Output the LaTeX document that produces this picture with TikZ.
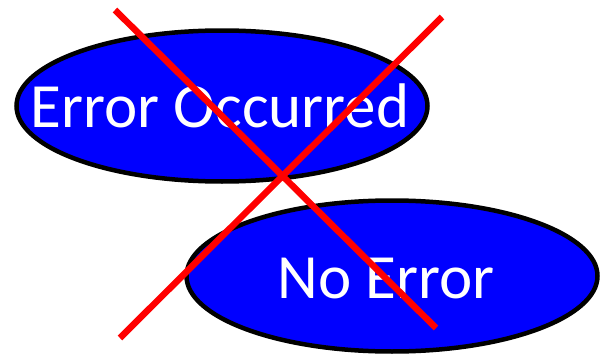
\documentclass[tikz,border=0pt]{standalone}
\usepackage{fontspec}
\setmainfont{Carlito}
\usetikzlibrary{shapes.geometric}
\definecolor{fillblue}{RGB}{0,0,255}
\definecolor{crossred}{RGB}{255,0,0}
\tikzset{
  state/.style={ellipse, draw=black, line width=4.5pt, fill=fillblue, inner sep=0pt,
    minimum width=411pt, minimum height=151pt},
  label/.style={text=white, inner sep=0pt, anchor=base,
    font=\fontsize{63}{63}\selectfont},
  cross/.style={draw=crossred, line width=6.5pt}
}
\begin{document}
\begin{tikzpicture}[x=1pt,y=-1pt]
\useasboundingbox (0,0) rectangle (606,356);
\node[state] (err) at (222,106) {};
\node[state] (ok) at (392,276) {};
\node[label] (errtext) at (220,127) {Error Occurred};
\node[label] (oktext) at (386,298) {No Error};
\coordinate (a1) at (115,10);
\coordinate (a2) at (436,328);
\coordinate (b1) at (442,17);
\coordinate (b2) at (120,338);
\draw[cross] (a1) -- (a2);
\draw[cross] (b1) -- (b2);
\end{tikzpicture}
\end{document}
